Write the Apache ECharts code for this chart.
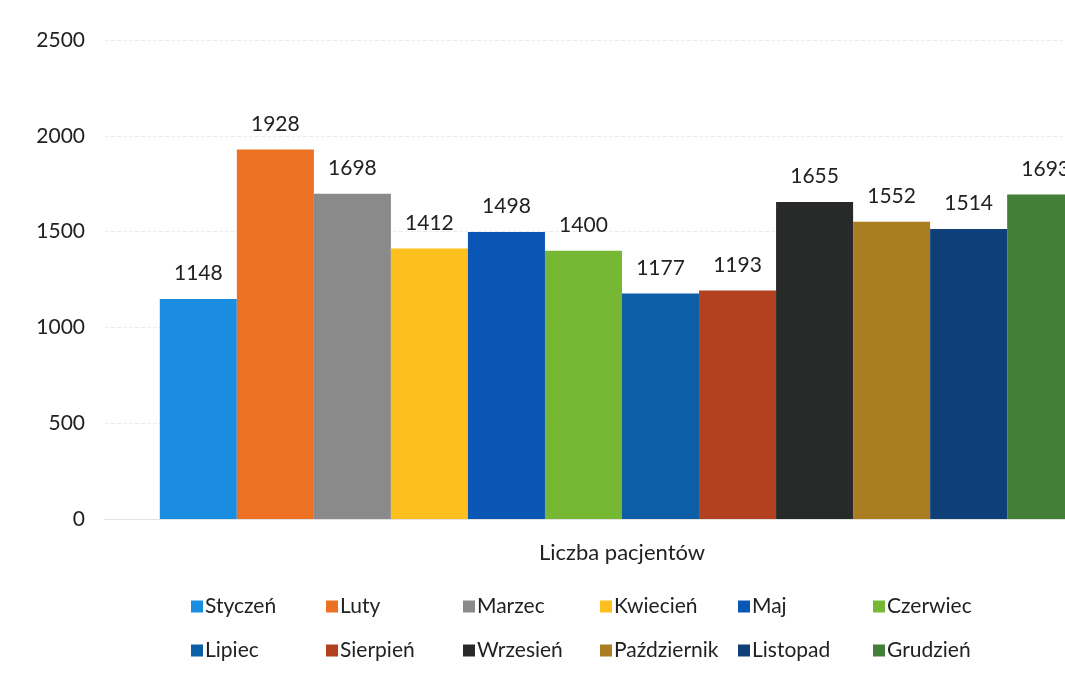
<!DOCTYPE html>
<html>
<head>
<meta charset="utf-8">
<script src="https://cdn.jsdelivr.net/npm/echarts@6/dist/echarts.min.js"></script>
<style>
  html, body { margin: 0; padding: 0; background: #fff; }
  #chart { width: 1065px; height: 674px; }
</style>
</head>
<body>
<div id="chart"></div>
<script>
// one category, one series per month
const category = ["Liczba pacjentów"];
const months = ["Styczeń", "Luty", "Marzec", "Kwiecień", "Maj", "Czerwiec",
  "Lipiec", "Sierpień", "Wrzesień", "Październik", "Listopad", "Grudzień"];
const patients = [1148, 1928, 1698, 1412, 1498, 1400, 1177, 1193, 1655, 1552, 1514, 1693];
const yTicks = [0, 500, 1000, 1500, 2000, 2500];

const colors = ["#1a8de0", "#ec7123", "#8a8a8a", "#fdbf1e", "#0a56b4", "#76b834",
  "#0c5ea6", "#b3401f", "#282a2a", "#aa7d22", "#0f3f78", "#447f38"];

const font = "Lato, 'Open Sans', sans-serif";

// legend: 6 columns x 2 rows
const colLeft = [186, 321, 458, 595, 733, 868];
const legends = colLeft.map((x, i) => ({
  left: x,
  top: 591,
  orient: "vertical",
  itemWidth: 12,
  itemHeight: 12,
  itemGap: 23,
  icon: "rect",
  selectedMode: false,
  textStyle: { fontFamily: font, fontSize: 21, color: "#222", padding: [0, 0, 0, -3] },
  data: [months[i], months[i + 6]],
}));

const chart = echarts.init(document.getElementById("chart"));
chart.setOption({
  animation: false,
  textStyle: { fontFamily: font },
  grid: { left: 105, right: -74, top: 40, bottom: 155, outerBoundsMode: "none", containLabel: false },
  legend: legends,
  xAxis: {
    type: "category",
    data: category,
    axisLine: { show: true, lineStyle: { color: "#e2e2e2", width: 1 } },
    axisTick: { show: false },
    axisLabel: { fontFamily: font, fontSize: 22, color: "#222", margin: 23 },
  },
  yAxis: {
    type: "value",
    min: yTicks[0],
    max: yTicks[yTicks.length - 1],
    interval: 500,
    axisLine: { show: false },
    axisTick: { show: false },
    axisLabel: {
      fontFamily: font, fontSize: 21, color: "#222", margin: 20,
      formatter: (v) => String(v),
    },
    splitLine: { lineStyle: { color: "#ececec", type: "dashed", width: 1 } },
  },
  series: months.map((m, i) => ({
    name: m,
    type: "bar",
    data: [patients[i]],
    barGap: 0,
    barCategoryGap: "10.6%",
    itemStyle: { color: colors[i] },
    label: {
      show: true,
      position: "top",
      distance: 15,
      fontFamily: font,
      fontSize: 21,
      color: "#222",
    },
  })),
});
</script>
</body>
</html>
